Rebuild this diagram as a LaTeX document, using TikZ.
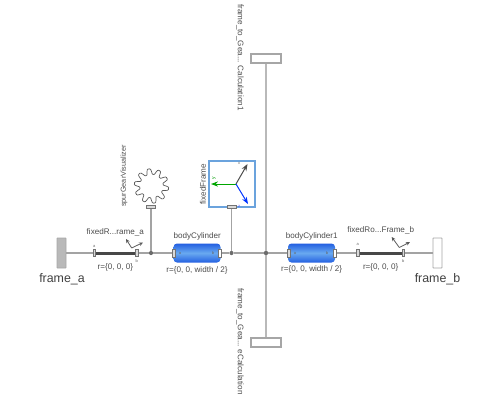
\documentclass[tikz,border=0pt]{standalone}
\usepackage{fontspec}
\setmainfont{Liberation Sans}
\usetikzlibrary{arrows.meta, positioning, calc}

\colorlet{wirecol}{black!36}
\colorlet{framecol}{cyan!60!blue!60}
\definecolor{bodydark}{RGB}{35,95,225}
\definecolor{bodylight}{RGB}{105,170,240}

\begin{document}
\begin{tikzpicture}[
    x=1pt, y=-1pt,
    portbox/.style={rectangle, draw=gray!70, fill=white, line width=1.1pt, inner sep=0pt},
    flange/.style={rectangle, draw=gray!90!black, fill=gray!30, line width=.6pt, inner sep=0pt, minimum width=2.6pt, minimum height=7.5pt},
    bodyshape/.style={rectangle, rounded corners=3.5pt, inner sep=0pt, minimum width=47pt, minimum height=19pt, top color=bodydark, bottom color=bodydark, middle color=bodylight},
    junction/.style={circle, fill=gray!85!black, inner sep=0pt, minimum size=4.2pt},
    wire/.style={draw=wirecol, line width=1.1pt},
    bar/.style={draw=black!72, line width=3pt},
    fork/.style={draw=black!65, line width=.8pt, -{Stealth[length=4pt,width=3.8pt]}},
    axis/.style={line width=1pt, -{Stealth[length=7pt,width=5.2pt]}},
    label/.style={font=\fontsize{8.1}{9}\selectfont, text=black!70, inner sep=0pt},
    big/.style={font=\fontsize{12.4}{13}\selectfont, text=black!75, inner sep=0pt},
    letter/.style={font=\fontsize{4}{4}\selectfont, text=black!60, inner sep=0pt}
]
\useasboundingbox (0,0) rectangle (499,400);

% boundary frames
\node [rectangle, draw=gray!70, fill=gray!55, line width=.8pt, rounded corners=.5pt, inner sep=0pt, minimum width=9pt, minimum height=30pt] (frame_a) at (61.5,253) {};
\node [portbox, draw=gray!70, line width=.8pt, rounded corners=.5pt, minimum width=9pt, minimum height=30pt] (frame_b) at (437.5,253) {};
\node [big] (frame_a_name) at (62,279) {frame\_a};
\node [big] (frame_b_name) at (437.5,279) {frame\_b};

% parts on the main line
\node [flange] (rod_a1) at (94.3,253) {};
\node [flange] (rod_a2) at (136.7,253) {};
\node [junction] (jgear) at (151,253) {};
\node [bodyshape] (bodyCylinder) at (197,253) {};
\node [flange, minimum height=8pt] (cyl_a1) at (174,253) {};
\node [flange, fill=white, minimum height=8pt] (cyl_a2) at (220,253) {};
\node [junction] (jframe) at (231.5,253) {};
\node [junction] (jcentre) at (266,253) {};
\node [bodyshape] (bodyCylinder1) at (311.5,253) {};
\node [flange, minimum height=8pt] (cyl_b1) at (288.5,253) {};
\node [flange, fill=white, minimum height=8pt] (cyl_b2) at (335,253) {};
\node [flange] (rod_b1) at (357.7,253) {};
\node [flange] (rod_b2) at (403.3,253) {};

% ports off the main line
\node [portbox, minimum width=30pt, minimum height=9pt] (calc_top) at (266,58.5) {};
\node [portbox, minimum width=30pt, minimum height=9pt] (calc_bot) at (266,342.5) {};
\node [rectangle, draw=framecol, line width=1.25pt, inner sep=0pt, minimum width=46pt, minimum height=46pt] (fixedFrame) at (232,184) {};
\node [flange, minimum width=9pt, minimum height=2.8pt] (gear_port) at (151,207) {};
\node [flange, minimum width=9pt, minimum height=2.8pt] (frame_port) at (231.5,207) {};

% wires
\path [wire] (frame_a) -- (rod_a1);
\path [bar] (rod_a1) -- (rod_a2);
\path [wire] (rod_a2) -- (jgear);
\path [wire] (jgear) -- (cyl_a1);
\path [wire] (cyl_a2) -- (jframe);
\path [wire] (jframe) -- (jcentre);
\path [wire] (jcentre) -- (cyl_b1);
\path [wire] (cyl_b2) -- (rod_b1);
\path [bar] (rod_b1) -- (rod_b2);
\path [wire] (rod_b2) -- (frame_b);
\path [wire] (jgear) -- (gear_port);
\path [wire] (jframe) -- (frame_port);
\path [wire, line width=1.5pt, draw=gray!55] (calc_top) -- (jcentre);
\path [wire, line width=1.5pt, draw=gray!55] (jcentre) -- (calc_bot);
\node [flange] at (rod_a1) {};
\node [flange] at (rod_a2) {};
\node [flange] at (rod_b1) {};
\node [flange] at (rod_b2) {};
\node [junction] at (jcentre) {};

% gear
\draw [black!65, line width=.7pt] plot [smooth cycle, samples=120, domain=0:357]
    ({151.5+(14.5+3.2*sin(10*\x)+.5*sin(30*\x))*cos(\x)}, {186+(14.5+3.2*sin(10*\x)+.5*sin(30*\x))*sin(\x)});

% axes in the frame symbol
\coordinate (origin) at (236,184);
\coordinate (xtip) at (247.5,164);
\coordinate (ytip) at (211,184);
\coordinate (ztip) at (248,204);
\draw [axis, black!70] (origin) -- (xtip);
\draw [axis, green!65!black] (origin) -- (ytip);
\draw [axis, blue!80!cyan] (origin) -- (ztip);
\node [letter] at (239,163) {x};
\node [letter, text=green!60!black, font=\fontsize{5}{5}\selectfont, rotate=90] at (214,178) {y};
\node [letter, text=blue!70] at (239,206) {z};

% offset arrows of the fixed translations
\coordinate (fork_a) at (131.7,248);
\coordinate (fork_a1) at (126,239);
\coordinate (fork_a2) at (143,242.5);
\coordinate (fork_b) at (399.3,247.5);
\coordinate (fork_b1) at (391.7,237);
\coordinate (fork_b2) at (410,242);
\draw [fork] (fork_a) -- (fork_a1);
\draw [fork] (fork_a) -- (fork_a2);
\draw [fork] (fork_b) -- (fork_b1);
\draw [fork] (fork_b) -- (fork_b2);

% labels
\node [label] at (115.3,232) {fixedR...rame\_a};
\node [label] at (115.3,267) {r=\{0, 0, 0\}};
\node [label] at (197.3,236.7) {bodyCylinder};
\node [label] at (197,270) {r=\{0, 0, width / 2\}};
\node [label] at (311.7,236.7) {bodyCylinder1};
\node [label] at (311.7,269.5) {r=\{0, 0, width / 2\}};
\node [label] at (380.7,230) {fixedRo...Frame\_b};
\node [label] at (380.7,267.7) {r=\{0, 0, 0\}};
\node [label, rotate=90, font=\fontsize{7.3}{8}\selectfont] at (124,176) {spurGearVisualizer};
\node [label, rotate=90] at (203,184) {fixedFrame};
\node [label, rotate=-90] at (240,57.5) {frame\_to\_Gea... Calculation1};
\node [label, rotate=-90] at (240,341.5) {frame\_to\_Gea... eCalculation};

% port letters
\node [letter] at (94.3,246) {a};
\node [letter] at (136.7,261) {b};
\node [letter] at (180,253) {a};
\node [letter] at (213,253) {b};
\node [letter] at (295,253) {a};
\node [letter] at (327,253) {b};
\node [letter] at (357.7,244.5) {a};
\node [letter] at (403.3,261) {b};
\end{tikzpicture}
\end{document}
